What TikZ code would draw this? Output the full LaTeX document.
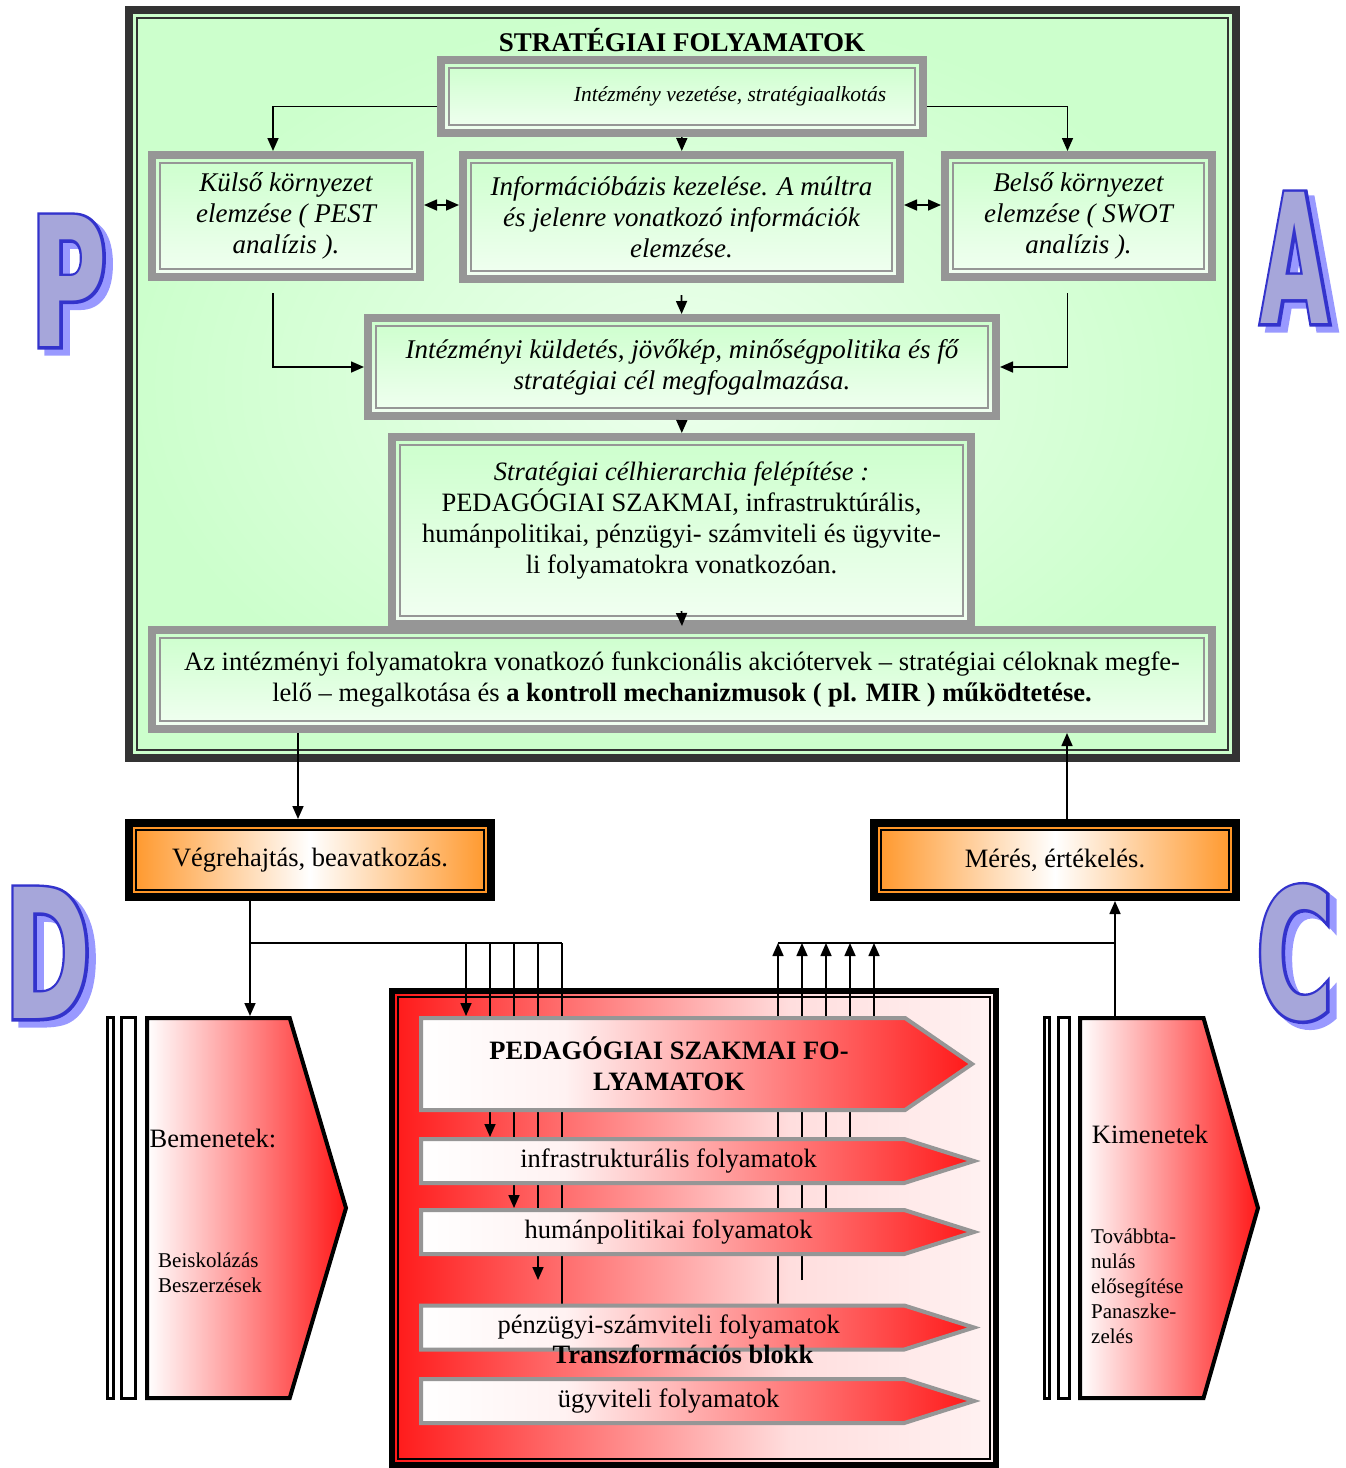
\documentclass[tikz,border=0pt]{standalone}
\usepackage{fontspec}
\setmainfont{Liberation Serif}
\newfontfamily\pdcawide{DejaVu Sans Bold}[FakeStretch=0.58]
\newfontfamily\pdcawideline{DejaVu Sans Bold}[FakeStretch=0.58, FakeBold=3.3]
\newfontfamily\pdcanarrow{DejaVu Sans Bold}[FakeStretch=0.49]
\newfontfamily\pdcanarrowline{DejaVu Sans Bold}[FakeStretch=0.49, FakeBold=3.3]
\usetikzlibrary{arrows.meta,shapes.symbols,backgrounds}

\definecolor{boxgray}{RGB}{150,150,150}
\definecolor{framegray}{RGB}{51,51,51}
\definecolor{greenA}{RGB}{204,255,204}
\definecolor{greenB}{RGB}{236,255,236}
\definecolor{greenC}{RGB}{242,255,242}
\definecolor{orangex}{RGB}{255,150,40}
\definecolor{redx}{RGB}{255,25,25}
\definecolor{redpale}{RGB}{255,242,242}
\definecolor{redlight}{RGB}{255,222,222}
\definecolor{letterfill}{RGB}{166,166,218}
\definecolor{letterline}{RGB}{51,51,204}
\definecolor{lettershadow}{RGB}{153,153,255}

\pgfdeclarehorizontalshading{arrowred}{100bp}{color(0bp)=(white); color(25bp)=(white); color(38bp)=(redpale); color(75bp)=(redx); color(100bp)=(redx)}
\pgfdeclarehorizontalshading{framered}{100bp}{color(0bp)=(redx); color(25bp)=(redx); color(58bp)=(redlight); color(75bp)=(redpale); color(100bp)=(redpale)}

\newcommand\txtit{\fontsize{27}{31}\selectfont\itshape}
\newcommand\txtrm{\fontsize{26.5}{31}\selectfont}
\newcommand\txtlead{\fontsize{21.5}{25}\selectfont\itshape}
\newcommand\txtsmall{\fontsize{21}{25}\selectfont}

\begin{document}
\begin{tikzpicture}[
    x=1pt, y=-1pt,
    % Block styles
    inline/.style 2 args={
        path picture={
            \draw[#1, line width=1.5pt]
                ([shift={(#2,-#2)}]path picture bounding box.north west) rectangle
                ([shift={(-#2,#2)}]path picture bounding box.south east);
        }
    },
    frame/.style={
        draw=framegray,
        line width=8pt,
        outer color=greenA,
        inner color=greenB,
        inline={framegray}{8pt}
    },
    gbox/.style={
        draw=boxgray,
        line width=8pt,
        top color=greenA,
        bottom color=greenC,
        inner sep=0pt,
        align=center,
        font=\txtit,
        inline={boxgray}{8pt}
    },
    obox/.style={
        draw=black,
        line width=8pt,
        left color=orangex,
        right color=orangex,
        middle color=white,
        minimum width=362pt,
        minimum height=74pt,
        font=\txtrm,
        path picture={
            \draw[orangex, line width=2pt]
                ([shift={(5pt,-5pt)}]path picture bounding box.north west) rectangle
                ([shift={(-5pt,5pt)}]path picture bounding box.south east);
            \draw[black, line width=2pt]
                ([shift={(7pt,-7pt)}]path picture bounding box.north west) rectangle
                ([shift={(-7pt,7pt)}]path picture bounding box.south east);
        }
    },
    tframe/.style={
        draw=black,
        line width=6pt,
        shade,
        shading=framered,
        inline={black}{6pt}
    },
    procarrow/.style={
        shape=signal,
        signal to=east,
        draw=boxgray,
        line width=4pt,
        shade,
        shading=arrowred,
        inner sep=0pt,
        align=center,
        font=\txtrm,
        anchor=west,
        minimum width=553pt,
        minimum height=44pt,
        signal pointer angle=35
    },
    sidearrow/.style={
        shape=signal,
        signal to=east,
        draw=black,
        line width=4pt,
        left color=white,
        right color=redx,
        inner sep=0pt,
        anchor=west,
        minimum height=380pt
    },
    bar/.style={draw, line width=3pt, fill=white, inner sep=0pt, minimum height=381pt},
    pdca/.style={inner sep=0pt},
    line/.style={draw, line width=1.6pt, -{Triangle[length=13pt,width=11pt]}},
    dline/.style={draw, line width=1.6pt, {Triangle[length=13pt,width=11pt]}-{Triangle[length=13pt,width=11pt]}},
    wire/.style={draw, line width=1.6pt}
]
\useasboundingbox (0,0) rectangle (1346,1468);

% Strategic processes
\node[frame, minimum width=1107pt, minimum height=748pt] (strat) at (682.5,384) {};
\node[font=\bfseries\fontsize{27}{31}\selectfont] (strattitle) at (682,40) {STRATÉGIAI FOLYAMATOK};

\node[gbox, minimum width=482pt, minimum height=73pt, font=\txtlead] (lead) at (682,96.5) {\hspace*{96pt}Intézmény vezetése, stratégiaalkotás};
\node[gbox, minimum width=268pt, minimum height=122pt] (kulso) at (286,216) {Külső környezet\\elemzése ( PEST\\analízis ).};
\node[gbox, minimum width=437pt, minimum height=124pt] (info) at (681.5,217) {Információbázis kezelése. A múltra\\és jelenre vonatkozó információk\\elemzése.};
\node[gbox, minimum width=267pt, minimum height=122pt] (belso) at (1078.5,216) {Belső környezet\\elemzése ( SWOT\\analízis ).};
\node[gbox, minimum width=628pt, minimum height=98pt] (mission) at (682,367) {Intézményi küldetés, jövőkép, minőségpolitika és fő\\stratégiai cél megfogalmazása.};
\node[gbox, minimum width=579pt, minimum height=187pt, font=\txtrm] (hier) at (681.5,530.5) {\textit{Stratégiai célhierarchia felépítése :}\\PEDAGÓGIAI SZAKMAI, infrastruktúrális,\\humánpolitikai, pénzügyi- számviteli és ügyvite-\\li folyamatokra vonatkozóan.\\[-6pt]\mbox{}};
\node[gbox, minimum width=1060pt, minimum height=99pt, font=\txtrm] (action) at (682,679.5) {Az intézményi folyamatokra vonatkozó funkcionális akciótervek – stratégiai céloknak megfe-\\lelő – megalkotása és \textbf{a kontroll mechanizmusok ( pl. MIR ) működtetése.}};

% Connections
\draw[line] ([yshift=-10pt]lead.west) -| ([xshift=-13pt]kulso.north);
\draw[line] ([yshift=-10pt]lead.east) -| ([xshift=-11pt]belso.north);
\draw[line] (lead) -- (info);
\draw[dline] ([yshift=11pt]kulso.east) -- ([yshift=12pt]info.west);
\draw[dline] ([yshift=12pt]info.east) -- ([yshift=11pt]belso.west);
\draw[line] ([yshift=-12pt]info.south) -- (mission);
\draw[line] ([xshift=-13pt,yshift=-12pt]kulso.south) |- (mission.west);
\draw[line] ([xshift=-11pt,yshift=-12pt]belso.south) |- (mission.east);
\draw[line] (mission) -- (hier);
\draw[line] ([yshift=17pt]hier.south) -- (action.north);

% Execution and measurement
\node[obox] (exec) at (310,860) {Végrehajtás, beavatkozás.};
\node[obox] (meas) at (1055,860) {Mérés, értékelés.};
\draw[line] ([xshift=-384pt]action.south) -- ([xshift=-12pt]exec.north);
\draw[line] ([xshift=12pt]meas.north) -- ([xshift=385pt]action.south);

% Inputs and outputs
\node[bar, minimum width=6pt] (bemA) at (110.5,1208) {};
\node[bar, minimum width=14pt] (bemB) at (128.5,1208) {};
\node[sidearrow, minimum width=199pt, signal pointer angle=147] (bemenet) at (145,1208) {};
\node[font=\fontsize{26.5}{31}\selectfont, inner sep=0pt] (bemtitle) at (213,1138) {Bemenetek:};
\node[font=\txtsmall, align=left, anchor=west, inner sep=0pt] (bemlist) at (158,1273) {Beiskolázás\\Beszerzések};

\node[bar, minimum width=5pt] (kimA) at (1047,1208) {};
\node[bar, minimum width=11pt] (kimB) at (1064,1208) {};
\node[sidearrow, minimum width=178pt, signal pointer angle=148] (kimenet) at (1078,1208) {};
\node[font=\fontsize{26.5}{31}\selectfont, inner sep=0pt] (kimtitle) at (1150,1134) {Kimenetek};
\node[font=\txtsmall, align=left, anchor=west, inner sep=0pt] (kimlist) at (1091,1286) {Továbbta-\\nulás\\elősegítése\\Panaszke-\\zelés};

% Transformation block
\node[procarrow, minimum width=551pt, minimum height=92pt, signal pointer angle=69, font=\txtrm\bfseries] (pedag) at (419,1064) {\hspace*{12pt}PEDAGÓGIAI SZAKMAI FO-\\\hspace*{12pt}LYAMATOK};
\node[procarrow] (infra) at (419,1161) {\hspace*{12pt}infrastrukturális folyamatok};
\node[procarrow] (human) at (419,1232) {\hspace*{12pt}humánpolitikai folyamatok};
\node[procarrow] (penz) at (419,1327.5) {\hspace*{12pt}pénzügyi-számviteli folyamatok};
\node[procarrow] (ugyv) at (419,1401) {\hspace*{12pt}ügyviteli folyamatok};
\node[font=\txtrm\bfseries, inner sep=0pt] (tlabel) at (683,1354) {Transzformációs blokk};

\coordinate (dbus) at (250,943);
\coordinate (cbus) at (1115,943);
\coordinate (dgap) at (538,1280);
\coordinate (cgap) at (802,1280);

\begin{scope}[on background layer]
\node[tframe, minimum width=604pt, minimum height=474pt] (tblock) at (694,1228) {};
% feeding the processes
\draw[wire] (dbus) -- (562,943);
\foreach \x/\t in {466/pedag, 490/infra, 514/human}{
    \coordinate (drop) at (\x,943);
    \draw[line] (drop) -- (drop |- \t.north);
}
\draw[line] (dgap |- dbus) -- (dgap);
\coordinate (dlast) at (562,943);
\draw[wire] (dlast) -- (dlast |- penz.north);
% results of the processes
\draw[wire] (778,943) -- (cbus);
\foreach \x/\t in {874/pedag, 850/infra, 826/human, 778/penz}{
    \coordinate (rise) at (\x,943);
    \draw[line] (rise |- \t.north) -- (rise);
}
\draw[line] (cgap) -- (cgap |- cbus);
\end{scope}

\draw[line] (exec.south -| dbus) -- (bemenet.north -| dbus);
\draw[line] (kimenet.north -| cbus) -- (meas.south -| cbus);

% PDCA letters
\foreach \n/\x/\y/\f/\o in {P/69/281/\pdcawide/\pdcawideline, A/1295/258/\pdcanarrow/\pdcanarrowline, D/48/953/\pdcawide/\pdcawideline, C/1295/953/\pdcawide/\pdcawideline}{
    \node[pdca, text=lettershadow, font=\o\fontsize{180}{180}\selectfont] (\n-shadow) at (\x+7,\y+6) {\n};
    \node[pdca, text=letterline, font=\o\fontsize{180}{180}\selectfont] (\n-line) at (\x,\y) {\n};
    \node[pdca, text=letterfill, font=\f\fontsize{180}{180}\selectfont] (\n) at (\x,\y) {\n};
}

\end{tikzpicture}
\end{document}
